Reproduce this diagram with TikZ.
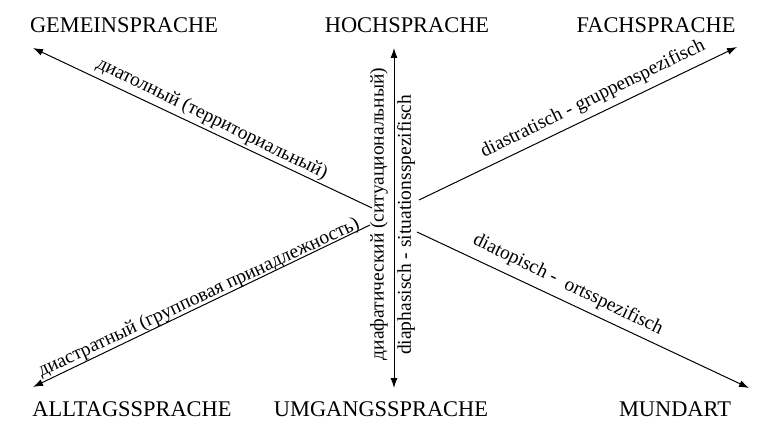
\documentclass[tikz,border=0pt]{standalone}
\usepackage{fontspec}
\setmainfont{Liberation Serif}
\usetikzlibrary{arrows.meta}
\begin{document}
\begin{tikzpicture}[x=1pt,y=-1pt,
  termlabel/.style={font=\fontsize{22.4}{26}\selectfont, anchor=base, inner sep=0pt},
  lbl/.style={font=\fontsize{19.5}{23}\selectfont, inner sep=0pt},
  axis/.style={line width=1pt, -{Latex[length=10pt,width=7pt]}},
  daxis/.style={line width=1pt, {Latex[length=10pt,width=7pt]}-{Latex[length=10pt,width=7pt]}}]
\useasboundingbox (0,0) rectangle (768,443);
% corner labels
\node[termlabel] (gem) at (124,33) {GEMEINSPRACHE};
\node[termlabel] (hoch) at (407,33) {HOCHSPRACHE};
\node[termlabel] (fach) at (656,33) {FACHSPRACHE};
\node[termlabel] (allt) at (132,416) {ALLTAGSSPRACHE};
\node[termlabel] (umg) at (381,416) {UMGANGSSPRACHE};
\node[termlabel] (mund) at (675,416) {MUNDART};
% connector ends
\coordinate (ulS) at (372,208);
\coordinate (ulE) at (33,48);
\coordinate (urS) at (419,200);
\coordinate (urE) at (737,47);
\coordinate (llS) at (370,225);
\coordinate (llE) at (33,387);
\coordinate (lrS) at (417,232);
\coordinate (lrE) at (749,388);
\coordinate (vT) at (394,48);
\coordinate (vB) at (394,388);
% connectors
\draw[axis] (ulS) -- (ulE);
\draw[axis] (urS) -- (urE);
\draw[axis] (llS) -- (llE);
\draw[axis] (lrS) -- (lrE);
\draw[daxis] (vB) -- (vT);
% labels
\node[lbl, rotate=-26] (lul) at (212,119) {диатолный (территориальный)};
\node[lbl, rotate=26] (lur) at (593,99) {diastratisch - gruppenspezifisch};
\node[lbl, rotate=25] (lll) at (199,298) {диастратный (групповая принадлежность)};
\node[lbl, rotate=-26] (llr) at (568,285) {diatopisch -\ \ ortsspezifisch};
\node[lbl, rotate=90] (lvr) at (379,214) {диафатический (ситуациональный)};
\node[lbl, rotate=90] (lvg) at (406,225) {diaphasisch - situationsspezifisch};
\end{tikzpicture}
\end{document}
